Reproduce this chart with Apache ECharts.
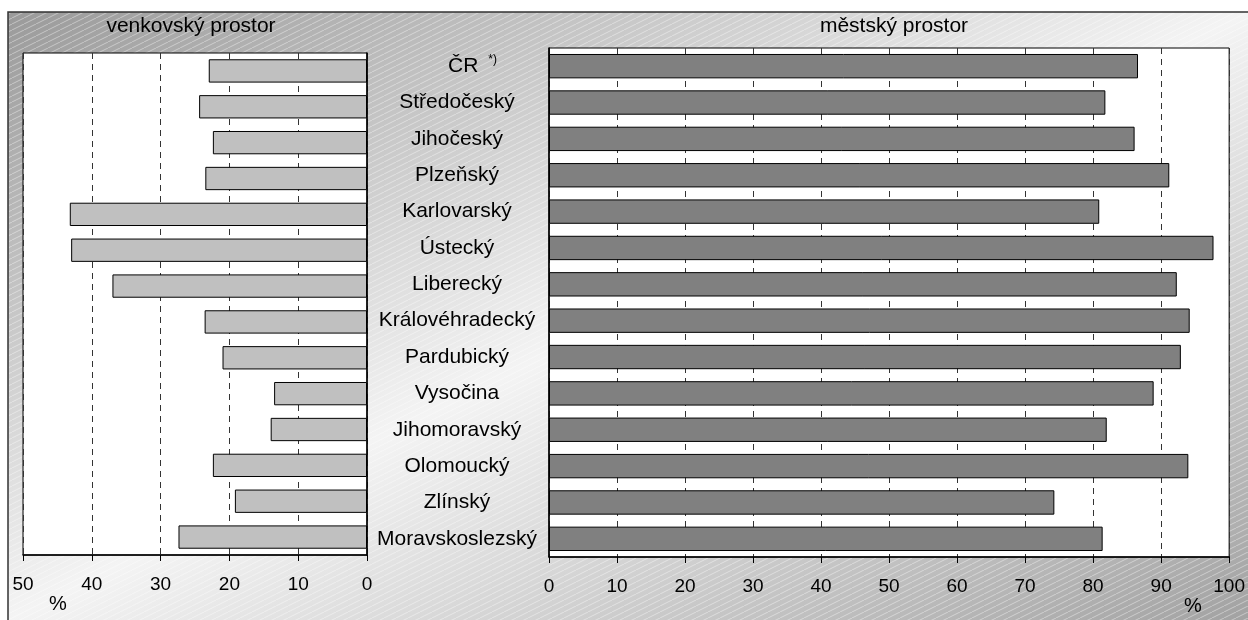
<!DOCTYPE html>
<html>
<head>
<meta charset="utf-8">
<script src="https://cdn.jsdelivr.net/npm/echarts@6/dist/echarts.min.js"></script>
<style>
html,body{margin:0;padding:0;background:#fff;}
#chart{width:1248px;height:620px;}
</style>
</head>
<body>
<div id="chart"></div>
<script>
// ---- data ----
const categories = ['ČR', 'Středočeský', 'Jihočeský', 'Plzeňský', 'Karlovarský', 'Ústecký', 'Liberecký',
  'Královéhradecký', 'Pardubický', 'Vysočina', 'Jihomoravský', 'Olomoucký', 'Zlínský', 'Moravskoslezský'];
const ruralValues = [23.0, 24.4, 22.4, 23.5, 43.2, 43.0, 37.0, 23.6, 21.0, 13.5, 14.0, 22.4, 19.2, 27.4];
const urbanValues = [86.6, 81.8, 86.1, 91.2, 80.9, 97.7, 92.3, 94.2, 92.9, 88.9, 82.0, 94.0, 74.3, 81.4];
const ruralTitle = 'venkovský prostor';
const urbanTitle = 'městský prostor';
const unitLabel = '%';
const ruralAxis = {min: 0, max: 50, interval: 10};
const urbanAxis = {min: 0, max: 100, interval: 10};

const FONT = '"Liberation Sans", Arial, sans-serif';

function stripePattern() {
  const c = document.createElement('canvas');
  c.width = 12; c.height = 6;
  const g = c.getContext('2d');
  g.strokeStyle = 'rgba(255,255,255,0.40)';
  g.lineWidth = 1;
  g.beginPath();
  g.moveTo(-2, 7); g.lineTo(14, -1);
  g.stroke();
  return c;
}

const chart = echarts.init(document.getElementById('chart'), null, {renderer: 'canvas'});

const axisLabelStyle = {color: '#000', fontSize: 19, fontFamily: FONT};
const dashed = {show: true, lineStyle: {color: '#333', type: [6, 5], width: 1}};

const option = {
  animation: false,
  graphic: [
    {type: 'rect', z: -100, shape: {x: 8, y: 12, width: 1260, height: 630},
      style: {
        fill: new echarts.graphic.LinearGradient(388, -174, 868, 806, [
          {offset: 0, color: '#9a9a9a'},
          {offset: 0.5, color: '#f4f4f4'},
          {offset: 1, color: '#a2a2a2'}
        ], true),
        stroke: '#333', lineWidth: 1.5
      }},
    {type: 'rect', z: -99, shape: {x: 9, y: 13, width: 1260, height: 630},
      style: {fill: {image: stripePattern(), repeat: 'repeat'}}},
    {type: 'text', x: 191, y: 26, z: 10,
      style: {text: ruralTitle, align: 'center', verticalAlign: 'middle', font: '21px ' + FONT, fill: '#000'}},
    {type: 'text', x: 894, y: 26, z: 10,
      style: {text: urbanTitle, align: 'center', verticalAlign: 'middle', font: '21px ' + FONT, fill: '#000'}},
    {type: 'text', x: 58, y: 604, z: 10,
      style: {text: unitLabel, align: 'center', verticalAlign: 'middle', font: '20px ' + FONT, fill: '#000'}},
    {type: 'text', x: 1193, y: 606, z: 10,
      style: {text: unitLabel, align: 'center', verticalAlign: 'middle', font: '20px ' + FONT, fill: '#000'}}
  ],
  grid: [
    {left: 23, top: 53, width: 344, height: 502, show: true, backgroundColor: '#fff', borderColor: '#000', borderWidth: 1},
    {left: 549, top: 48, width: 684, height: 509, show: true, backgroundColor: '#fff', borderColor: '#000', borderWidth: 1}
  ],
  xAxis: [
    {gridIndex: 0, type: 'value', inverse: true, min: ruralAxis.min, max: ruralAxis.max, interval: ruralAxis.interval,
      axisLine: {show: true, lineStyle: {color: '#000', width: 1.5}},
      axisTick: {show: true, length: 6, lineStyle: {color: '#000'}},
      axisLabel: Object.assign({margin: 20}, axisLabelStyle),
      splitLine: dashed},
    {gridIndex: 1, type: 'value', min: urbanAxis.min, max: urbanAxis.max, interval: urbanAxis.interval,
      axisLine: {show: true, lineStyle: {color: '#000', width: 1.5}},
      axisTick: {show: true, length: 6, lineStyle: {color: '#000'}},
      axisLabel: Object.assign({margin: 20}, axisLabelStyle),
      splitLine: dashed}
  ],
  yAxis: [
    {gridIndex: 0, type: 'category', data: categories, inverse: true, position: 'right',
      axisLine: {show: true, lineStyle: {color: '#000', width: 1.5}},
      axisTick: {show: false}, axisLabel: {show: false}, splitLine: {show: false}},
    {gridIndex: 1, type: 'category', data: categories, inverse: true, position: 'left',
      axisLine: {show: true, lineStyle: {color: '#000', width: 1.5}},
      axisTick: {show: false}, splitLine: {show: false},
      axisLabel: {
        margin: 92, align: 'center', color: '#000', fontSize: 21, fontFamily: FONT,
        formatter: function (v) { return v === 'ČR' ? '{pad|}ČR{gap|}{sup|*)}' : v; },
        rich: {
          pad: {width: 31},
          gap: {width: 10},
          sup: {fontSize: 12, fontFamily: FONT, color: '#000', padding: [0, 0, 12, 0]}
        }
      }}
  ],
  series: [
    {type: 'bar', xAxisIndex: 0, yAxisIndex: 0, data: ruralValues, barCategoryGap: '35%',
      itemStyle: {color: '#c0c0c0', borderColor: '#000', borderWidth: 1}},
    {type: 'bar', xAxisIndex: 1, yAxisIndex: 1, data: urbanValues, barCategoryGap: '33%',
      itemStyle: {color: '#808080', borderColor: '#000', borderWidth: 1}}
  ]
};
chart.setOption(option);
</script>
</body>
</html>
